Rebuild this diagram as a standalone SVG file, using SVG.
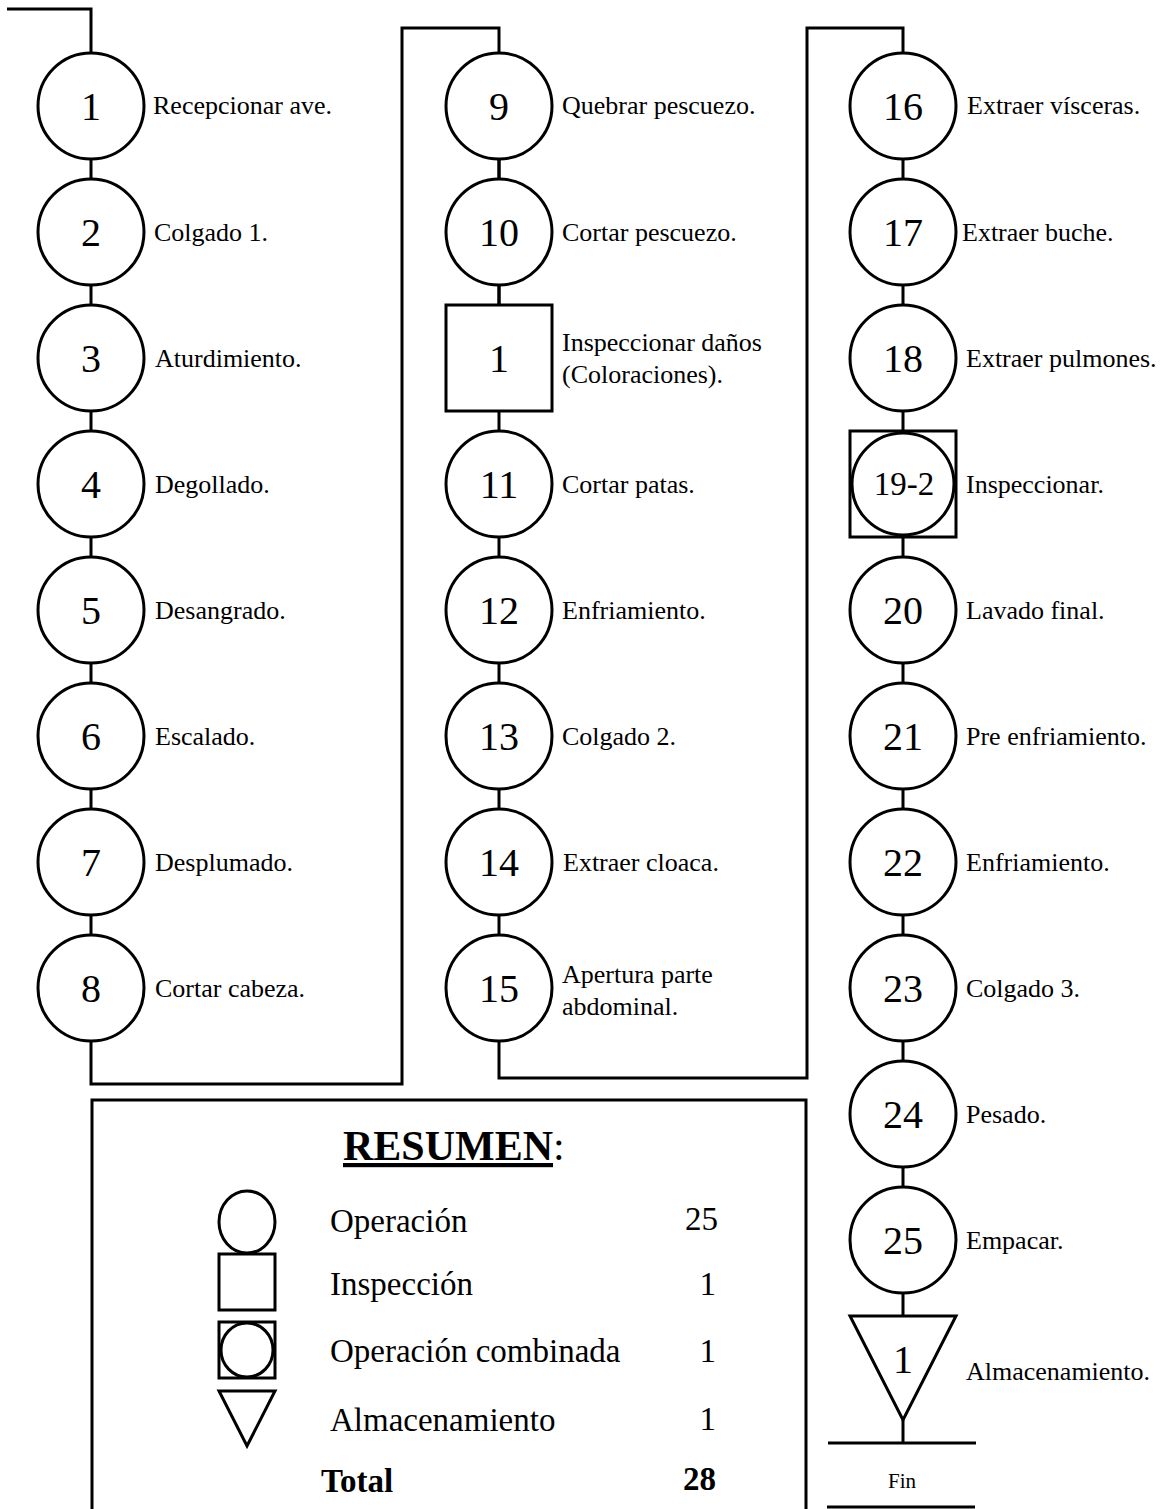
<svg xmlns="http://www.w3.org/2000/svg" width="1164" height="1509" viewBox="0 0 1164 1509">
<style>
  .s { fill: #fff; stroke: #000; stroke-width: 3; }
  .c { fill: none; stroke: #000; stroke-width: 3; stroke-linejoin: miter; }
  text { font-family: "Liberation Serif", "Times New Roman", serif; fill: #000; }
  .num { font-size: 40px; text-anchor: middle; }
  .lbl { font-size: 26px; }
  .sm { font-size: 33px; }
  .cnt { font-size: 33px; text-anchor: end; }
  .b { font-weight: bold; }
</style>
<rect width="1164" height="1509" fill="#fff"/>
<g id="connectors">
  <path class="c" d="M7,9 H91 V53"/>
  <path class="c" d="M91,159 V179 M91,285 V305 M91,411 V431 M91,537 V557 M91,663 V683 M91,789 V809 M91,915 V935"/>
  <path class="c" d="M91,1041 V1084 H402 V28 H499 V53"/>
  <path class="c" d="M499,159 V305 M499,411 V431 M499,537 V557 M499,663 V683 M499,789 V809 M499,915 V935"/>
  <path class="c" d="M499,159 V179 M499,285 V305"/>
  <path class="c" d="M499,1041 V1078 H807 V28 H903 V53"/>
  <path class="c" d="M903,159 V179 M903,285 V305 M903,411 V431 M903,537 V557 M903,663 V683 M903,789 V809 M903,915 V935 M903,1041 V1061 M903,1167 V1187 M903,1293 V1316"/>
  <path class="c" d="M903,1420 V1443"/>
</g>
<g id="n1"><circle class="s" cx="91" cy="106" r="53"/><text class="num" x="91" y="120">1</text><text class="lbl" x="153" y="114">Recepcionar ave.</text></g>
<g id="n2"><circle class="s" cx="91" cy="232" r="53"/><text class="num" x="91" y="246">2</text><text class="lbl" x="154" y="241">Colgado 1.</text></g>
<g id="n3"><circle class="s" cx="91" cy="358" r="53"/><text class="num" x="91" y="372">3</text><text class="lbl" x="155" y="367">Aturdimiento.</text></g>
<g id="n4"><circle class="s" cx="91" cy="484" r="53"/><text class="num" x="91" y="498">4</text><text class="lbl" x="155" y="493">Degollado.</text></g>
<g id="n5"><circle class="s" cx="91" cy="610" r="53"/><text class="num" x="91" y="624">5</text><text class="lbl" x="155" y="619">Desangrado.</text></g>
<g id="n6"><circle class="s" cx="91" cy="736" r="53"/><text class="num" x="91" y="750">6</text><text class="lbl" x="155" y="745">Escalado.</text></g>
<g id="n7"><circle class="s" cx="91" cy="862" r="53"/><text class="num" x="91" y="876">7</text><text class="lbl" x="155" y="871">Desplumado.</text></g>
<g id="n8"><circle class="s" cx="91" cy="988" r="53"/><text class="num" x="91" y="1002">8</text><text class="lbl" x="155" y="997">Cortar cabeza.</text></g>

<g id="n9"><circle class="s" cx="499" cy="106" r="53"/><text class="num" x="499" y="120">9</text><text class="lbl" x="562" y="114">Quebrar pescuezo.</text></g>
<g id="n10"><circle class="s" cx="499" cy="232" r="53"/><text class="num" x="499" y="246">10</text><text class="lbl" x="562" y="241">Cortar pescuezo.</text></g>
<g id="i1"><rect class="s" x="446" y="305" width="106" height="106"/><text class="num" x="499" y="372">1</text><text class="lbl" x="562" y="351">Inspeccionar daños</text><text class="lbl" x="562" y="383">(Coloraciones).</text></g>
<g id="n11"><circle class="s" cx="499" cy="484" r="53"/><text class="num" x="499" y="498">11</text><text class="lbl" x="562" y="493">Cortar patas.</text></g>
<g id="n12"><circle class="s" cx="499" cy="610" r="53"/><text class="num" x="499" y="624">12</text><text class="lbl" x="562" y="619">Enfriamiento.</text></g>
<g id="n13"><circle class="s" cx="499" cy="736" r="53"/><text class="num" x="499" y="750">13</text><text class="lbl" x="562" y="745">Colgado 2.</text></g>
<g id="n14"><circle class="s" cx="499" cy="862" r="53"/><text class="num" x="499" y="876">14</text><text class="lbl" x="563" y="871">Extraer cloaca.</text></g>
<g id="n15"><circle class="s" cx="499" cy="988" r="53"/><text class="num" x="499" y="1002">15</text><text class="lbl" x="562" y="983">Apertura parte</text><text class="lbl" x="562" y="1015">abdominal.</text></g>

<g id="n16"><circle class="s" cx="903" cy="106" r="53"/><text class="num" x="903" y="120">16</text><text class="lbl" x="967" y="114">Extraer vísceras.</text></g>
<g id="n17"><circle class="s" cx="903" cy="232" r="53"/><text class="num" x="903" y="246">17</text><text class="lbl" x="962" y="241">Extraer buche.</text></g>
<g id="n18"><circle class="s" cx="903" cy="358" r="53"/><text class="num" x="903" y="372">18</text><text class="lbl" x="966" y="367">Extraer pulmones.</text></g>
<g id="n19"><rect class="s" x="850" y="431" width="106" height="106"/><circle class="s" cx="903" cy="484" r="51"/><text class="num" x="904" y="495" style="font-size:33px">19-2</text><text class="lbl" x="966" y="493">Inspeccionar.</text></g>
<g id="n20"><circle class="s" cx="903" cy="610" r="53"/><text class="num" x="903" y="624">20</text><text class="lbl" x="966" y="619">Lavado final.</text></g>
<g id="n21"><circle class="s" cx="903" cy="736" r="53"/><text class="num" x="903" y="750">21</text><text class="lbl" x="966" y="745">Pre enfriamiento.</text></g>
<g id="n22"><circle class="s" cx="903" cy="862" r="53"/><text class="num" x="903" y="876">22</text><text class="lbl" x="966" y="871">Enfriamiento.</text></g>
<g id="n23"><circle class="s" cx="903" cy="988" r="53"/><text class="num" x="903" y="1002">23</text><text class="lbl" x="966" y="997">Colgado 3.</text></g>
<g id="n24"><circle class="s" cx="903" cy="1114" r="53"/><text class="num" x="903" y="1128">24</text><text class="lbl" x="966" y="1123">Pesado.</text></g>
<g id="n25"><circle class="s" cx="903" cy="1240" r="53"/><text class="num" x="903" y="1254">25</text><text class="lbl" x="966" y="1249">Empacar.</text></g>
<g id="a1"><polygon class="s" points="850,1316 956,1316 903,1420"/><text class="num" x="903" y="1373">1</text><text class="lbl" x="966" y="1380">Almacenamiento.</text></g>
<g id="fin"><line class="c" x1="828" y1="1443" x2="976" y2="1443"/><text x="902" y="1488" style="font-size:21px;text-anchor:middle">Fin</text><line class="c" x1="827" y1="1507" x2="975" y2="1507"/></g>

<g id="resumen">
  <path class="c" d="M92,1509 V1100 H806 V1509"/>
  <text x="343" y="1160" style="font-size:42px"><tspan class="b" text-decoration="underline">RESUMEN</tspan>:</text>
  <ellipse class="s" cx="247" cy="1222" rx="28" ry="31"/>
  <rect class="s" x="219" y="1254" width="56" height="56"/>
  <rect class="s" x="219" y="1322" width="56" height="56"/>
  <ellipse class="s" cx="247" cy="1350" rx="26" ry="27"/>
  <polygon class="s" points="219,1391 275,1391 247,1446"/>
  <text class="sm" x="330" y="1232">Operación</text><text class="cnt" x="718" y="1230">25</text>
  <text class="sm" x="330" y="1295">Inspección</text><text class="cnt" x="716" y="1295">1</text>
  <text class="sm" x="330" y="1362">Operación combinada</text><text class="cnt" x="716" y="1362">1</text>
  <text class="sm" x="330" y="1431">Almacenamiento</text><text class="cnt" x="716" y="1430">1</text>
  <text class="sm b" x="321" y="1492">Total</text><text class="cnt b" x="716" y="1490">28</text>
</g>
</svg>
